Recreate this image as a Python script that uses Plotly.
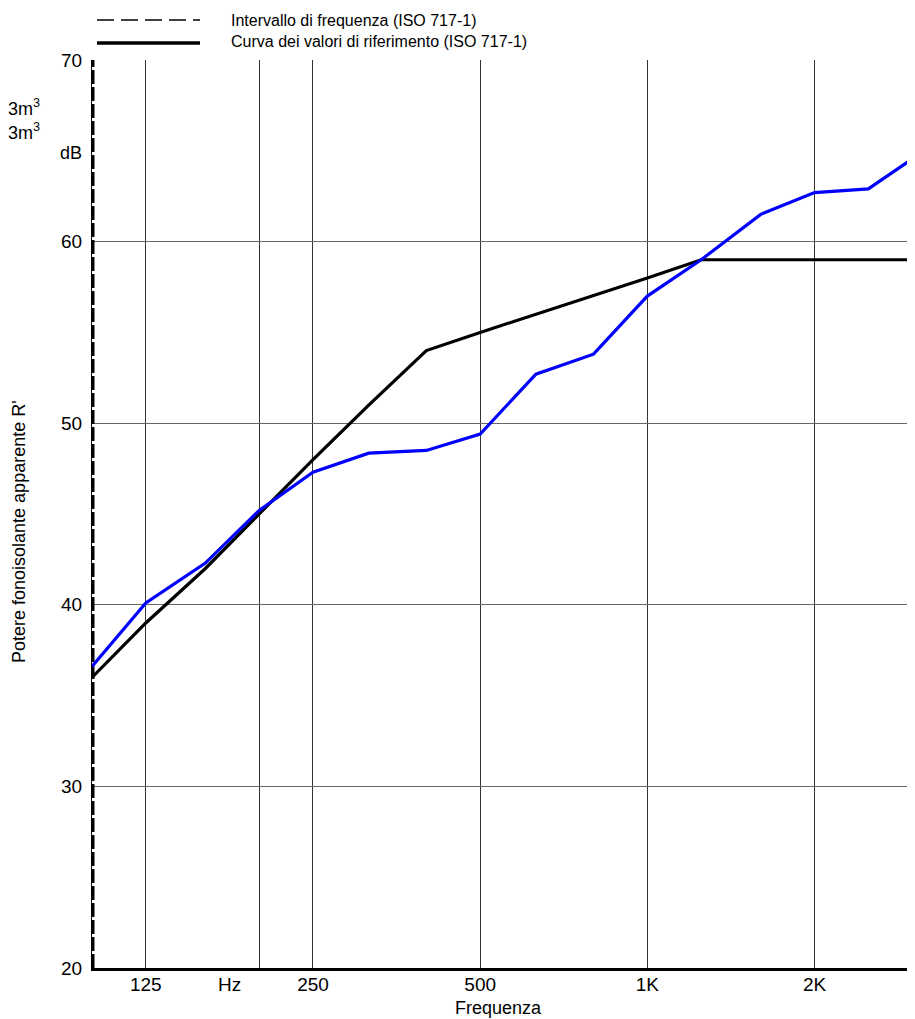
import plotly.graph_objects as go

# Third-octave band centre frequencies (Hz)
freqs = [100, 125, 160, 200, 250, 315, 400, 500, 630, 800, 1000, 1250, 1600, 2000, 2500, 3150]
# Curva dei valori di riferimento (ISO 717-1), shifted
ref_values = [36, 39, 42, 45, 48, 51, 54, 55, 56, 57, 58, 59, 59, 59, 59, 59]
# Measured apparent sound reduction index R'
measured_values = [36.6, 40.1, 42.3, 45.2, 47.3, 48.35, 48.5, 49.4, 52.7, 53.8, 57.0, 59.0, 61.5, 62.7, 62.9, 65.0]
# Frequency interval (ISO 717-1)
interval_x = [100, 100]
interval_y = [20, 70]

x_tick_vals = [125, 177, 250, 500, 1000, 2000]
x_tick_text = ["125", "Hz", "250", "500", "1K", "2K"]
x_grid_vals = [125, 200, 250, 500, 1000, 2000]
y_tick_vals = [20, 30, 40, 50, 60, 70]

legend_labels = ["Intervallo di frequenza (ISO 717-1)", "Curva dei valori di riferimento (ISO 717-1)"]

FONT = "Liberation Sans, Arial, sans-serif"
OFF = 8  # page body margin
W, H = 915 - OFF, 1019 - OFF
ML, MT, MB, MR = 92 - OFF, 60 - OFF, 1019 - 968, 0
PW, PH = W - ML - MR, H - MT - MB

def px_x(wx):
    return (wx - OFF - ML) / PW

def px_y(wy):
    return (H - MB - (wy - OFF)) / PH

fig = go.Figure()
fig.add_trace(go.Scatter(x=interval_x, y=interval_y, mode="lines",
                         line=dict(color="black", width=5, dash="14px,3px"),
                         showlegend=False, hoverinfo="skip"))
fig.add_trace(go.Scatter(x=freqs, y=ref_values, mode="lines",
                         line=dict(color="black", width=3.2),
                         showlegend=False))
fig.add_trace(go.Scatter(x=freqs, y=measured_values, mode="lines",
                         line=dict(color="#0000ff", width=3.2),
                         showlegend=False))

# legend samples drawn at top
fig.add_shape(type="line", xref="paper", yref="paper",
              x0=px_x(97), x1=px_x(200), y0=px_y(20), y1=px_y(20),
              line=dict(color="black", width=1.5, dash="17px,7px"))
fig.add_shape(type="line", xref="paper", yref="paper",
              x0=px_x(97), x1=px_x(200), y0=px_y(43), y1=px_y(43),
              line=dict(color="black", width=3.5))
for i, lab in enumerate(legend_labels):
    fig.add_annotation(text=lab, xref="paper", yref="paper",
                       x=px_x(229), y=px_y(20 + 22 * i), xanchor="left", yanchor="middle",
                       showarrow=False, font=dict(family=FONT, size=16, color="black"))

# side texts
fig.add_annotation(text="Potere fonoisolante apparente R'", xref="paper", yref="paper",
                   x=px_x(19), y=px_y(532), textangle=-90, showarrow=False,
                   xanchor="center", yanchor="middle",
                   font=dict(family=FONT, size=18, color="black"))
fig.add_annotation(text="Frequenza", xref="paper", yref="paper",
                   x=px_x(498), y=px_y(1008), showarrow=False,
                   xanchor="center", yanchor="middle",
                   font=dict(family=FONT, size=18, color="black"))
fig.add_annotation(text="dB", xref="paper", yref="paper",
                   x=px_x(84), y=px_y(153), xanchor="right", yanchor="middle",
                   showarrow=False, font=dict(family=FONT, size=18, color="black"))
for yy in (108, 132):
    fig.add_annotation(text="3m<sup>3</sup>", xref="paper", yref="paper",
                       x=px_x(42), y=px_y(yy), xanchor="right", yanchor="middle",
                       showarrow=False, font=dict(family=FONT, size=18, color="black"))

fig.update_layout(
    width=W, height=H,
    margin=dict(l=ML, r=MR, t=MT, b=MB, pad=0),
    paper_bgcolor="white", plot_bgcolor="white",
    font=dict(family=FONT, size=19, color="black"),
    showlegend=False,
)
fig.update_xaxes(type="log", range=[2, 3.482], tickvals=x_tick_vals, ticktext=x_tick_text,
                 showgrid=False, zeroline=False, ticks="",
                 showline=True, linecolor="black", linewidth=2.5,
                 minor=dict(tickvals=x_grid_vals, showgrid=True, gridcolor="#333", gridwidth=1, ticks=""),
                 ticklabelstandoff=-3,
                 tickfont=dict(family=FONT, size=19))
fig.update_yaxes(range=[20, 70], tickvals=y_tick_vals, showgrid=True, gridcolor="#666", gridwidth=1,
                 zeroline=False, ticks="", showline=True, linecolor="black", linewidth=1,
                 ticklabelstandoff=5, tickfont=dict(family=FONT, size=19))

fig.write_html("out.html")
